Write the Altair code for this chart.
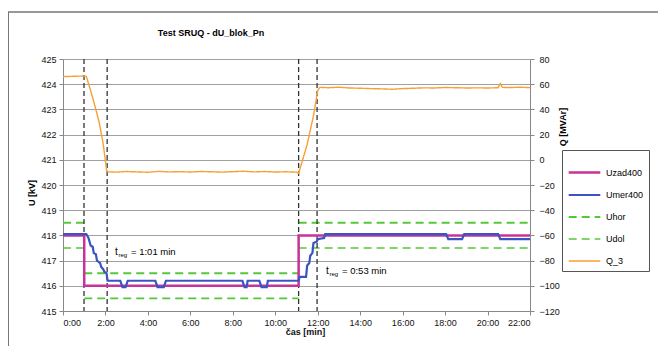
import altair as alt
import pandas as pd

# ---------------- data ----------------
series_names = ["Uzad400", "Umer400", "Uhor", "Udol", "Q_3"]
series_colors = ["#C8329B", "#3A55C0", "#55C83A", "#55C83A", "#F7A035"]
series_dash = [[1, 0], [1, 0], [8, 5], [8, 5], [1, 0]]
series_width = [2.5, 1.4, 1.5, 1.5, 1.5]

uzad_t = [0, 1.0, 1.0, 11.1, 11.1, 22]
uzad_u = [418, 418, 416, 416, 418, 418]

umer_t = [0, 1.1, 1.2, 1.3, 1.4, 1.45, 1.55, 1.6, 1.75, 1.8, 1.9, 1.95, 2.05, 2.1,
          2.7, 2.8, 2.95, 3.05, 4.35, 4.45, 4.75, 4.85, 8.45, 8.55, 8.65, 8.7,
          9.25, 9.35, 9.6, 9.65, 11.1, 11.15, 11.45, 11.5, 11.6, 11.65, 11.75, 11.8,
          11.95, 12.0, 12.3, 12.35, 18.05, 18.15, 18.8, 18.9, 20.5, 20.6, 22]
umer_u = [418.05, 418.05, 417.9, 417.6, 417.55, 417.3, 417.25, 417.0, 416.9, 416.75, 416.65, 416.55, 416.5, 416.2,
          416.2, 415.95, 415.95, 416.2, 416.2, 415.95, 415.95, 416.2, 416.2, 415.95, 415.95, 416.2,
          416.2, 415.95, 415.95, 416.2, 416.2, 416.35, 416.35, 416.8, 416.9, 417.2, 417.3, 417.7,
          417.75, 417.85, 417.9, 418.05, 418.05, 417.85, 417.85, 418.05, 418.05, 417.85, 417.85]

band_seg = [0, 0, 1, 1, 2, 2]
band_t = [0, 1.0, 1.0, 11.1, 11.1, 22]
uhor_u = [418.5, 418.5, 416.5, 416.5, 418.5, 418.5]
udol_u = [417.5, 417.5, 415.5, 415.5, 417.5, 417.5]

q_t = [0, 0.5, 1.0, 1.1, 1.3, 1.5, 1.7, 1.9, 2.05, 2.1, 2.5, 3, 3.5, 4, 4.5, 5, 5.5, 6, 6.5, 7,
       7.5, 8, 8.5, 9, 9.5, 10, 10.5, 11, 11.1, 11.5, 11.8, 12.0, 12.1, 12.5, 13, 13.5, 14, 14.5,
       15, 15.5, 16, 16.5, 17, 17.5, 18, 18.5, 19, 19.5, 20, 20.5, 20.6, 20.7, 21, 21.5, 22]
q_v = [66, 66.3, 66.5, 66.2, 55, 43, 30, 12, -8, -9.5, -9.8, -9.3, -9.6, -9.9, -9.2, -9.6, -9.4, -9.7, -9.3, -9.5,
       -9.8, -9.4, -9.1, -9.6, -9.3, -9.7, -9.5, -9.8, -10.8, 12, 35, 55, 57.5, 57.2, 57.6, 57.0, 56.8, 56.5,
       56.3, 56.0, 56.5, 56.8, 57.1, 57.0, 57.4, 57.2, 57.0, 57.1, 57.0, 57.2, 60.5, 57.5, 57.3, 57.6, 57.3]

vline_t = [0.99, 2.08, 11.1, 11.97]

note_t = [2.45, 12.39]
note_u = [417.35, 416.57]
note_text = ["= 1:01 min", "= 0:53 min"]

x_ticks = list(range(0, 23, 2))
u_ticks = list(range(415, 426))
q_ticks = list(range(-120, 81, 20))

# ---------------- frames ----------------
uzad_df = pd.DataFrame({"t": uzad_t, "U": uzad_u, "series": "Uzad400", "seg": 0})
umer_df = pd.DataFrame({"t": umer_t, "U": umer_u, "series": "Umer400", "seg": 0})
band_df = pd.concat([
    pd.DataFrame({"t": band_t, "U": uhor_u, "series": "Uhor", "seg": band_seg}),
    pd.DataFrame({"t": band_t, "U": udol_u, "series": "Udol", "seg": [s + 10 for s in band_seg]}),
])
q_df = pd.DataFrame({"t": q_t, "Q": q_v, "series": "Q_3"})
vline_df = pd.DataFrame({"t": vline_t})
note_df = pd.DataFrame({"t": note_t, "U": note_u, "txt": note_text})
dummy = pd.DataFrame({"a": [0]})

FONT = "Liberation Sans"

x_enc = alt.X("t:Q", scale=alt.Scale(domain=[0, 22], nice=False, zero=False),
              axis=alt.Axis(values=x_ticks, labelExpr="floor(datum.value) + ':00'",
                            title="čas [min]", titleX=242, titlePadding=0, grid=False,
                            tickSize=4, labelPadding=3))
u_enc = alt.Y("U:Q", scale=alt.Scale(domain=[415, 425], nice=False, zero=False),
              axis=alt.Axis(values=u_ticks, title=None, grid=True, tickSize=4, labelPadding=3))
q_enc = alt.Y("Q:Q", scale=alt.Scale(domain=[-120, 80], nice=False, zero=False),
              axis=alt.Axis(values=q_ticks, title=None, orient="right", grid=False,
                            tickSize=4, labelPadding=5))

color_enc = alt.Color("series:N", scale=alt.Scale(domain=series_names, range=series_colors), title=None,
                      legend=alt.Legend(orient="none", legendX=499, legendY=91, symbolType="stroke",
                                        symbolSize=1000, labelFontSize=9, labelFont=FONT,
                                        strokeColor="#555555", padding=5, rowPadding=0,
                                        labelOffset=4, fillColor="white"))
dash_enc = alt.StrokeDash("series:N", scale=alt.Scale(domain=series_names, range=series_dash), title=None)
width_enc = alt.StrokeWidth("series:N", scale=alt.Scale(domain=series_names, range=series_width), title=None)

band = alt.Chart(band_df).mark_line().encode(
    x=x_enc, y=u_enc, color=color_enc, strokeDash=dash_enc, strokeWidth=width_enc, detail="seg:N")
vlines = alt.Chart(vline_df).mark_rule(color="#333333", strokeDash=[5, 3], strokeWidth=1.3).encode(x=x_enc)
uzad = alt.Chart(uzad_df).mark_line().encode(
    x=x_enc, y=u_enc, color=color_enc, strokeDash=dash_enc, strokeWidth=width_enc)
umer = alt.Chart(umer_df).mark_line().encode(
    x=x_enc, y=u_enc, color=color_enc, strokeDash=dash_enc, strokeWidth=width_enc)

note_t_mark = alt.Chart(note_df).mark_text(align="left", baseline="middle", font=FONT, fontSize=10).encode(
    x=x_enc, y=u_enc, text=alt.value("t"))
note_sub = alt.Chart(note_df).mark_text(align="left", baseline="middle", font=FONT, fontSize=6, dx=3.5, dy=3).encode(
    x=x_enc, y=u_enc, text=alt.value("reg"))
note_rest = alt.Chart(note_df).mark_text(align="left", baseline="middle", font=FONT, fontSize=9.5, dx=16).encode(
    x=x_enc, y=u_enc, text="txt:N")

title = alt.Chart(dummy).mark_text(align="center", baseline="middle", font=FONT, fontSize=9,
                                   fontWeight="bold").encode(
    x=alt.value(148), y=alt.value(-26), text=alt.value("Test SRUQ - dU_blok_Pn"))
u_title = alt.Chart(dummy).mark_text(align="center", baseline="middle", font=FONT, fontSize=9,
                                     fontWeight="bold", angle=270).encode(
    x=alt.value(-31), y=alt.value(134), text=alt.value("U [kV]"))
q_title = alt.Chart(dummy).mark_text(align="center", baseline="middle", font=FONT, fontSize=9,
                                     fontWeight="bold", angle=270).encode(
    x=alt.value(500), y=alt.value(68), text=alt.value("Q [MVAr]"))
frame_top = alt.Chart(dummy).mark_rule(color="#333333", strokeWidth=1.2).encode(
    x=alt.value(-56), x2=alt.value(600), y=alt.value(-47))
frame_left = alt.Chart(dummy).mark_rule(color="#777777", strokeWidth=2).encode(
    x=alt.value(-55), y=alt.value(-47), y2=alt.value(287))

left = alt.layer(band, vlines, uzad, umer, note_t_mark, note_sub, note_rest,
                 title, u_title, q_title, frame_top, frame_left)

q_line = alt.Chart(q_df).mark_line().encode(
    x=x_enc, y=q_enc, color=color_enc, strokeDash=dash_enc, strokeWidth=width_enc)

chart = alt.layer(left, q_line).resolve_scale(y="independent").properties(
    width=467, height=252,
    autosize=alt.AutoSizeParams(type="none"),
    padding={"left": 55, "top": 51, "right": 128, "bottom": 35},
    background="white",
).configure_view(stroke=None).configure_axis(
    labelFont=FONT, labelFontSize=9, labelColor="#111111",
    titleFont=FONT, titleFontSize=9, titleFontWeight="bold", titleColor="#111111",
    domainColor="#888888", tickColor="#888888", gridColor="#a0a0a0", gridWidth=1,
).configure_legend(strokeColor="#555555")

chart.save("out.html", embed_options={"renderer": "svg", "actions": False})
